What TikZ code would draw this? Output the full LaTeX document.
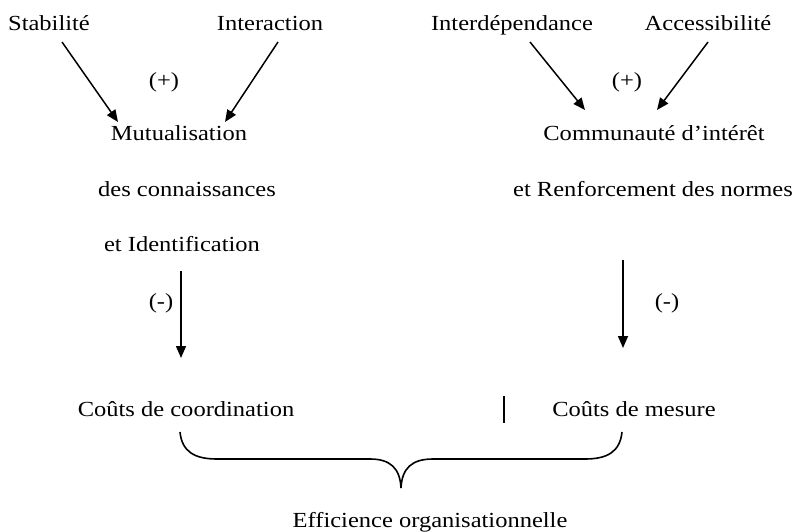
\documentclass[tikz,border=0pt]{standalone}
\usepackage{fontspec}
\setmainfont{Liberation Serif}[FakeStretch=1.14]
\usetikzlibrary{arrows.meta}
\begin{document}
\begin{tikzpicture}[x=1pt,y=-1pt,
  lbl/.style={anchor=base,inner sep=0pt,font=\fontsize{21.5}{26}\selectfont},
  arr/.style={line width=1.5pt,-{Triangle[length=12pt,width=10pt]}},
  brace/.style={line width=1.6pt}]
\useasboundingbox (0,0) rectangle (795,532);
% top row
\node[lbl] (stab) at (49,31) {Stabilité};
\node[lbl] (inter) at (270,31) {Interaction};
\node[lbl] (interd) at (512,31) {Interdépendance};
\node[lbl] (access) at (708,31) {Accessibilité};
\node[lbl] (plusL) at (164,88) {(+)};
\node[lbl] (plusR) at (627,88) {(+)};
% middle
\node[lbl] (mut1) at (179,141) {Mutualisation};
\node[lbl] (mut2) at (187,196) {des connaissances};
\node[lbl] (mut3) at (182,251) {et Identification};
\node[lbl] (com1) at (654,141) {Communauté d’intérêt};
\node[lbl] (com2) at (653,196) {et Renforcement des normes};
\node[lbl] (minL) at (161,308) {(-)};
\node[lbl] (minR) at (667,308) {(-)};
% bottom
\node[lbl] (coord) at (186,416) {Coûts de coordination};
\node[lbl] (mesure) at (634,416) {Coûts de mesure};
\node[lbl] (eff) at (430,527) {Efficience organisationnelle};
% arrow endpoints
\coordinate (s0) at (62,42);   \coordinate (s1) at (118,122);
\coordinate (i0) at (278,42);  \coordinate (i1) at (225,122);
\coordinate (d0) at (530,42);  \coordinate (d1) at (585,110);
\coordinate (a0) at (708,42);  \coordinate (a1) at (657,110);
\coordinate (l0) at (181,271); \coordinate (l1) at (181,358);
\coordinate (r0) at (623,260); \coordinate (r1) at (623,348);
\draw[arr] (s0) -- (s1);
\draw[arr] (i0) -- (i1);
\draw[arr] (d0) -- (d1);
\draw[arr] (a0) -- (a1);
\draw[arr] (l0) -- (l1);
\draw[arr] (r0) -- (r1);
% separator bar
\coordinate (b0) at (504,396); \coordinate (b1) at (504,423);
\draw[line width=2.2pt] (b0) -- (b1);
% brace
\coordinate (brL) at (180,432);
\coordinate (brM) at (401,488);
\coordinate (brR) at (622,432);
\draw[brace] (brL) .. controls (182,452) and (195,459) .. (217,459) -- (370,459)
  .. controls (390,459) and (400,468) .. (brM)
  .. controls (402,468) and (412,459) .. (433,459) -- (585,459)
  .. controls (607,459) and (620,452) .. (brR);
\end{tikzpicture}
\end{document}
